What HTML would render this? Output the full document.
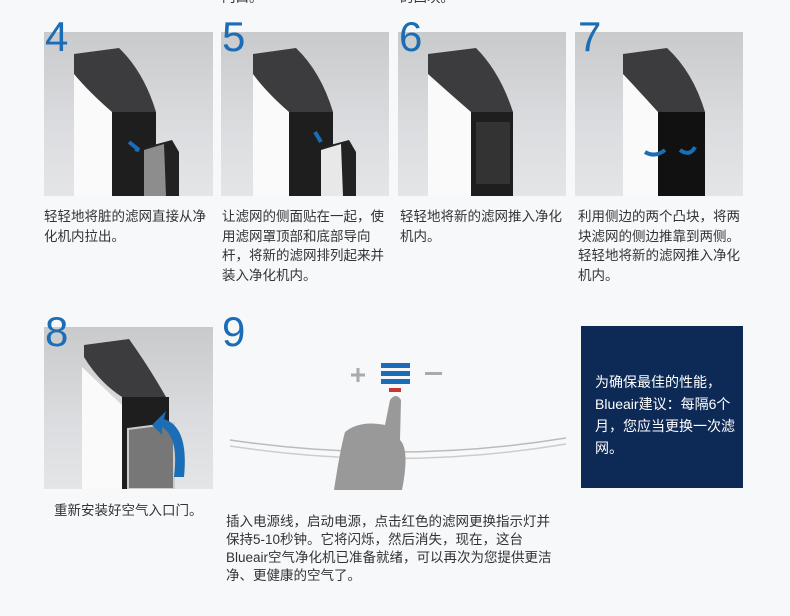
<!DOCTYPE html>
<html><head><meta charset="utf-8"><style>
body{margin:0;width:790px;height:616px;background:#f7f8fa;position:relative;overflow:hidden;font-family:"Liberation Sans","Noto Sans CJK SC",sans-serif;}
.p{position:absolute;background:linear-gradient(#c9cacc,#dcdde0 60%,#e4e5e7);overflow:hidden}
.n{position:absolute;color:#1b6db5;font-size:42px;line-height:42px;font-family:"Liberation Sans",sans-serif;}
.t{position:absolute;font-size:13.5px;line-height:19.5px;color:#333;white-space:nowrap}
svg{position:absolute;left:0;top:0}
</style></head><body>
<div class="t" style="left:222px;top:-12px">门口。</div>
<div class="t" style="left:400px;top:-12px">的凸块。</div>

<div class="p" style="left:44px;top:32px;width:169px;height:164px">
<svg width="169" height="164"><path d="M30 20 L30 164 L70 164 L70 80 L30 40Z" fill="#fafafa"/><path d="M68 80 L112 80 L112 164 L68 164Z" fill="#1e1e1e"/><path d="M30 22 L75 16 Q100 40 112 80 L68 80 Q45 60 30 42Z" fill="#3c3c3e"/><path d="M102 115 L128 108 L135 120 L135 164 L102 164Z" fill="#222"/><path d="M100 118 L120 112 L122 164 L100 164Z" fill="#8d8d8d"/><path d="M85 110 l10 8 l-4 -1" stroke="#1b6db5" stroke-width="4" fill="none"/></svg></div>
<div class="n" style="left:45px;top:16px">4</div>

<div class="p" style="left:221px;top:32px;width:168px;height:164px">
<svg width="168" height="164"><path d="M32 20 L32 164 L70 164 L70 80 L32 40Z" fill="#fafafa"/><path d="M68 80 L112 80 L112 164 L68 164Z" fill="#1e1e1e"/><path d="M32 22 L75 16 Q100 40 112 80 L68 80 Q45 60 32 42Z" fill="#3c3c3e"/><path d="M102 115 L128 108 L135 120 L135 164 L102 164Z" fill="#222"/><path d="M100 118 L120 112 L122 164 L100 164Z" fill="#e8e8e8"/><path d="M100 110 l-6 -10" stroke="#1b6db5" stroke-width="4"/></svg></div>
<div class="n" style="left:222px;top:16px">5</div>

<div class="p" style="left:398px;top:32px;width:168px;height:164px">
<svg width="168" height="164"><path d="M30 20 L30 164 L75 164 L75 80 L30 40Z" fill="#fafafa"/><path d="M73 80 L115 80 L115 164 L73 164Z" fill="#1e1e1e"/><path d="M78 90 L112 90 L112 152 L78 152Z" fill="#333"/><path d="M30 22 L78 16 Q102 40 115 80 L73 80 Q50 60 30 42Z" fill="#3c3c3e"/></svg></div>
<div class="n" style="left:399px;top:16px">6</div>

<div class="p" style="left:575px;top:32px;width:168px;height:164px">
<svg width="168" height="164"><path d="M48 20 L48 164 L85 164 L85 80 L48 40Z" fill="#fafafa"/><path d="M83 80 L130 80 L130 164 L83 164Z" fill="#111"/><path d="M48 22 L92 16 Q118 40 130 80 L83 80 Q65 60 48 42Z" fill="#3c3c3e"/><path d="M90 118 q-10 8 -20 2" stroke="#1b6db5" stroke-width="4" fill="none"/><path d="M120 115 q-5 10 -15 3" stroke="#1b6db5" stroke-width="4" fill="none"/></svg></div>
<div class="n" style="left:578px;top:16px">7</div>

<div class="t" style="left:44px;top:207px">轻轻地将脏的滤网直接从净<br>化机内拉出。</div>
<div class="t" style="left:222px;top:207px">让滤网的侧面贴在一起，使<br>用滤网罩顶部和底部导向<br>杆，将新的滤网排列起来并<br>装入净化机内。</div>
<div class="t" style="left:400px;top:207px">轻轻地将新的滤网推入净化<br>机内。</div>
<div class="t" style="left:578px;top:207px">利用侧边的两个凸块，将两<br>块滤网的侧边推靠到两侧。<br>轻轻地将新的滤网推入净化<br>机内。</div>

<div class="p" style="left:44px;top:327px;width:169px;height:162px">
<svg width="169" height="162"><path d="M38 20 L38 162 L80 162 L80 80 L38 40Z" fill="#fafafa"/><path d="M78 70 L125 70 L125 162 L78 162Z" fill="#1e1e1e"/><path d="M40 18 L85 12 Q105 40 122 70 L78 70 Q55 55 40 30Z" fill="#3c3c3e"/><path d="M84 102 L130 96 L130 162 L84 162Z" fill="#777" stroke="#ccc" stroke-width="2"/><path d="M140 150 Q145 100 120 92 L122 84 L108 98 L118 108 L118 100 Q135 110 130 150Z" fill="#1b6db5"/></svg></div>
<div class="n" style="left:45px;top:311px">8</div>
<div class="n" style="left:222px;top:311px">9</div>

<svg width="790" height="616" style="pointer-events:none">
<path d="M230 440 Q400 465 566 438" stroke="#bbb" stroke-width="1.5" fill="none"/>
<path d="M230 446 Q400 472 566 444" stroke="#ccc" stroke-width="1.5" fill="none"/>
<path d="M351 375 h14 M358 368 v14" stroke="#aaa" stroke-width="3"/>
<rect x="381" y="363" width="29" height="5" fill="#1b6db5"/><rect x="381" y="371" width="29" height="5" fill="#1b6db5"/><rect x="381" y="379" width="29" height="5" fill="#1b6db5"/>
<rect x="425" y="372" width="17" height="3" fill="#aaa"/>
<rect x="389" y="388" width="12" height="4" fill="#c33"/>
<path d="M390 400 Q396 392 401 400 L400 440 Q410 450 402 490 L334 490 Q340 450 345 432 Q360 420 385 425Z" fill="#999"/>
</svg>

<div style="position:absolute;left:581px;top:326px;width:162px;height:162px;background:#0d2a57"></div>
<div class="t" style="left:595px;top:371px;color:#fff;font-size:14px;line-height:22px">为确保最佳的性能，<br>Blueair建议：每隔6个<br>月，您应当更换一次滤<br>网。</div>

<div class="t" style="left:54px;top:501px">重新安装好空气入口门。</div>
<div class="t" style="left:226px;top:513px;line-height:18px">插入电源线，启动电源，点击红色的滤网更换指示灯并<br>保持5-10秒钟。它将闪烁，然后消失，现在，这台<br>Blueair空气净化机已准备就绪，可以再次为您提供更洁<br>净、更健康的空气了。</div>
</body></html>
